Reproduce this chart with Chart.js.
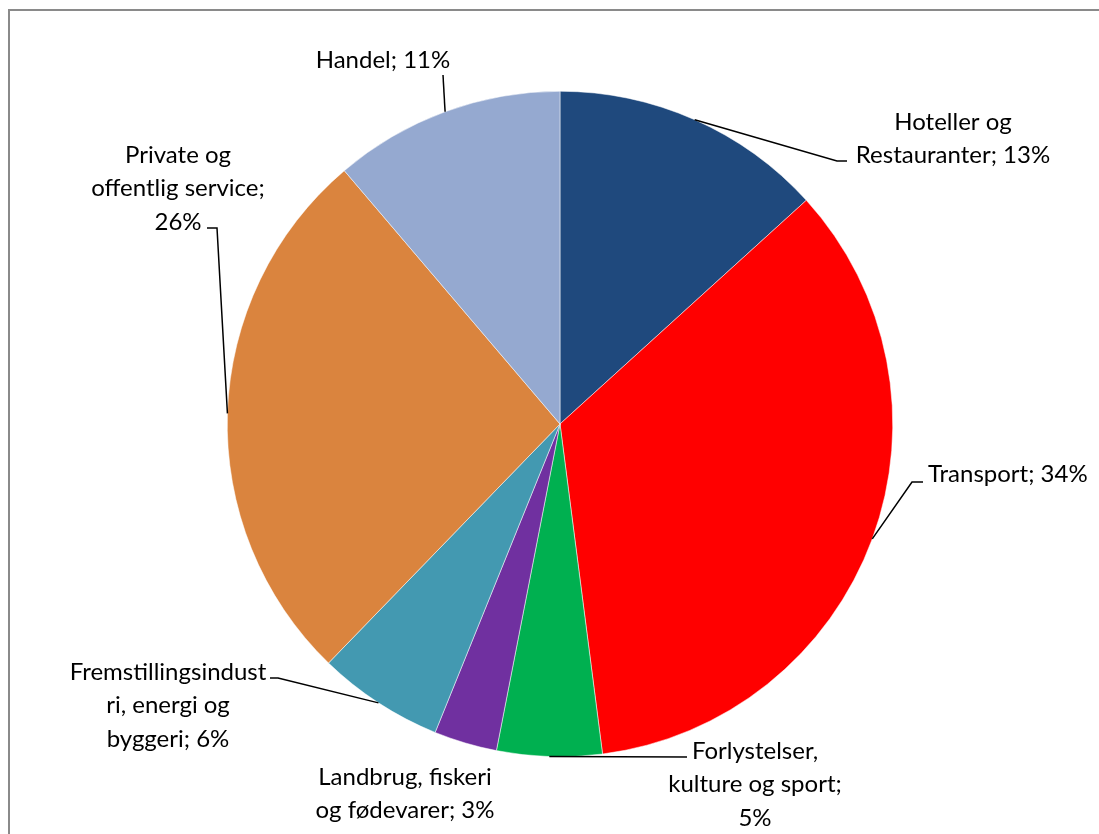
<!DOCTYPE html>
<html>
<head>
<meta charset="utf-8">
<script src="https://cdn.jsdelivr.net/npm/chart.js@4/dist/chart.umd.min.js"></script>
<style>
  html, body { margin: 0; padding: 0; background: #fff; overflow: hidden; }
  #wrap { width: 1099px; height: 834px; position: relative; }
</style>
</head>
<body>
<div id="wrap"><canvas id="pieChart" width="1099" height="834"></canvas></div>
<script>
// data
const categories = ['Hoteller og Restauranter', 'Transport', 'Forlystelser, kulture og sport',
    'Landbrug, fiskeri og fødevarer', 'Fremstillingsindustri, energi og byggeri',
    'Private og offentlig service', 'Handel'];
const shares = [13, 34, 5, 3, 6, 26, 11];
const colors = ['#1F497D', '#FF0000', '#00B050', '#7030A0', '#4399B1', '#DA843E', '#95A9D0'];

// label wrapping as in the original ({v} = value)
const labelLines = [
    ['Hoteller og', 'Restauranter; {v}'],
    ['Transport; {v}'],
    ['Forlystelser,', 'kulture og sport;', '{v}'],
    ['Landbrug, fiskeri', 'og fødevarer; {v}'],
    ['Fremstillingsindust', 'ri, energi og', 'byggeri; {v}'],
    ['Private og', 'offentlig service;', '{v}'],
    ['Handel; {v}']
];
// label placement relative to pie centre: [x, y of first line, align]
const labelPos = [
    [393, -302, 'center'],
    [368, 50, 'left'],
    [195, 327, 'center'],
    [-155, 353, 'center'],
    [-392, 248, 'center'],
    [-382, -269, 'center'],
    [-177, -364, 'center']
];
// leader line points after the arc point, relative to centre
const leaders = [
    [[277, -263], [287, -263]],
    [[352, 58], [363, 58]],
    [[127, 333]],
    null,
    [[-282, 254], [-290, 254]],
    [[-343, -196], [-353, -196]],
    [[-117, -349]]
];

const labelPlugin = {
    id: 'pieLabels',
    afterDatasetsDraw(chart) {
        const ctx = chart.ctx;
        const arcs = chart.getDatasetMeta(0).data;
        ctx.save();
        // leader lines
        ctx.strokeStyle = '#000';
        ctx.lineWidth = 1.5;
        arcs.forEach(function (arc, i) {
            if (!leaders[i]) return;
            const mid = (arc.startAngle + arc.endAngle) / 2;
            ctx.beginPath();
            ctx.moveTo(arc.x + Math.cos(mid) * arc.outerRadius, arc.y + Math.sin(mid) * arc.outerRadius);
            leaders[i].forEach(function (p) { ctx.lineTo(arc.x + p[0], arc.y + p[1]); });
            ctx.stroke();
        });
        // texts
        ctx.fillStyle = '#000';
        ctx.font = '24px Lato';
        ctx.textBaseline = 'middle';
        arcs.forEach(function (arc, i) {
            const pos = labelPos[i];
            ctx.textAlign = pos[2];
            labelLines[i].forEach(function (line, j) {
                const txt = line.replace('{v}', shares[i] + '%');
                ctx.fillText(txt, arc.x + pos[0], arc.y + pos[1] + j * 33.5);
            });
        });
        ctx.restore();
    }
};

const framePlugin = {
    id: 'frame',
    beforeDraw(chart) {
        const ctx = chart.ctx;
        ctx.save();
        ctx.strokeStyle = '#8a8a8a';
        ctx.lineWidth = 2;
        ctx.beginPath();
        ctx.moveTo(9, 900);
        ctx.lineTo(9, 10);
        ctx.lineTo(1200, 10);
        ctx.stroke();
        ctx.restore();
    }
};

document.addEventListener("DOMContentLoaded", function () {
    const ctx = document.getElementById('pieChart').getContext('2d');
    new Chart(ctx, {
        type: 'pie',
        data: {
            labels: categories,
            datasets: [{
                data: shares,
                backgroundColor: colors,
                borderColor: '#ffffff',
                borderWidth: 0.5
            }]
        },
        options: {
            responsive: false,
            animation: false,
            events: [],
            layout: { padding: { left: 227, right: 206, top: 91, bottom: 77 } },
            plugins: {
                legend: { display: false },
                tooltip: { enabled: false }
            }
        },
        plugins: [framePlugin, labelPlugin]
    });
});
</script>
</body>
</html>
